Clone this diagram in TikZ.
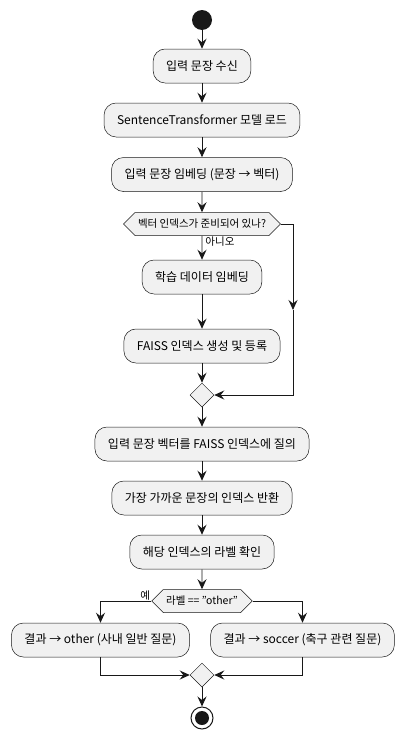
\documentclass[tikz,border=0pt]{standalone}
\usepackage{fontspec}
\setmainfont{Noto Sans CJK KR}
\usetikzlibrary{arrows.meta, shapes.geometric, shapes.symbols}
\definecolor{umlline}{HTML}{181818}
\definecolor{umlfill}{HTML}{F1F1F1}

\begin{document}
\begin{tikzpicture}[x=1pt, y=-1pt, line width=0.9pt,
	>={Stealth[length=10pt, width=9pt, inset=3.5pt]},
	act/.style={draw=umlline, fill=umlfill, line width=0.5pt, rounded corners=12pt,
		minimum height=34pt, inner xsep=13pt, font=\fontsize{12}{14}\selectfont},
	choice/.style={signal, signal to=west and east, signal pointer angle=90,
		draw=umlline, fill=umlfill, line width=0.5pt, minimum height=23pt,
		inner xsep=3pt, font=\fontsize{10.5}{12}\selectfont},
	merge/.style={diamond, draw=umlline, fill=umlfill, line width=0.5pt,
		minimum size=24pt, inner sep=0pt},
	lbl/.style={font=\fontsize{10.5}{12}\selectfont, inner sep=1pt}]
	\useasboundingbox (0,0) rectangle (405,739);

	\node[circle, fill=umlline, minimum size=20pt, inner sep=0pt] (start) at (202,20) {};
	\node[act] (recv) at (202,66) {입력 문장 수신};
	\node[act] (load) at (202,120) {SentenceTransformer 모델 로드};
	\node[act] (emb) at (202,174.5) {입력 문장 임베딩 (문장 → 벡터)};
	\node[choice] (ready) at (202,224) {벡터 인덱스가 준비되어 있나?};
	\node[act] (train) at (202,277) {학습 데이터 임베딩};
	\node[act] (faiss) at (202,346) {FAISS 인덱스 생성 및 등록};
	\node[merge] (m1) at (202,395) {};
	\node[act] (query) at (202,444) {입력 문장 벡터를 FAISS 인덱스에 질의};
	\node[act] (near) at (202,498) {가장 가까운 문장의 인덱스 반환};
	\node[act] (label) at (202,552) {해당 인덱스의 라벨 확인};
	\node[choice] (other) at (202,601) {라벨 == "other"};
	\node[act] (resO) at (100.5,640) {결과 → other (사내 일반 질문)};
	\node[act] (resS) at (302.5,640) {결과 → soccer (축구 관련 질문)};
	\node[merge] (m2) at (202,675) {};
	\node[circle, draw=umlline, fill=white, line width=1pt, minimum size=22pt, inner sep=0pt] (stop) at (202,718) {};
	\fill[umlline] (stop.center) circle (7);

	\node[lbl, anchor=north west] (no) at ([xshift=2pt]ready.south) {아니오};
	\node[lbl, anchor=south east] (yes) at ([yshift=-1pt]other.west) {예};

	\coordinate (rt) at (293,224);
	\coordinate (rm) at (293,310);
	\coordinate (rb) at (293,395);

	\draw[umlline, ->] (start) -- (recv);
	\draw[umlline, ->] (recv) -- (load);
	\draw[umlline, ->] (load) -- (emb);
	\draw[umlline, ->] (emb) -- (ready);
	\draw[umlline, ->] (ready) -- (train);
	\draw[umlline, ->] (train) -- (faiss);
	\draw[umlline, ->] (faiss) -- (m1);
	\draw[umlline, ->] (ready.east) -- (rt) -- (rm);
	\draw[umlline, ->] (rm) -- (rb) -- (m1.east);
	\draw[umlline, ->] (m1) -- (query);
	\draw[umlline, ->] (query) -- (near);
	\draw[umlline, ->] (near) -- (label);
	\draw[umlline, ->] (label) -- (other);
	\draw[umlline, ->] (other.west) -| (resO.north);
	\draw[umlline, ->] (other.east) -| (resS.north);
	\draw[umlline, ->] (resO.south) |- (m2.west);
	\draw[umlline, ->] (resS.south) |- (m2.east);
	\draw[umlline, ->] (m2) -- (stop);
\end{tikzpicture}
\end{document}
